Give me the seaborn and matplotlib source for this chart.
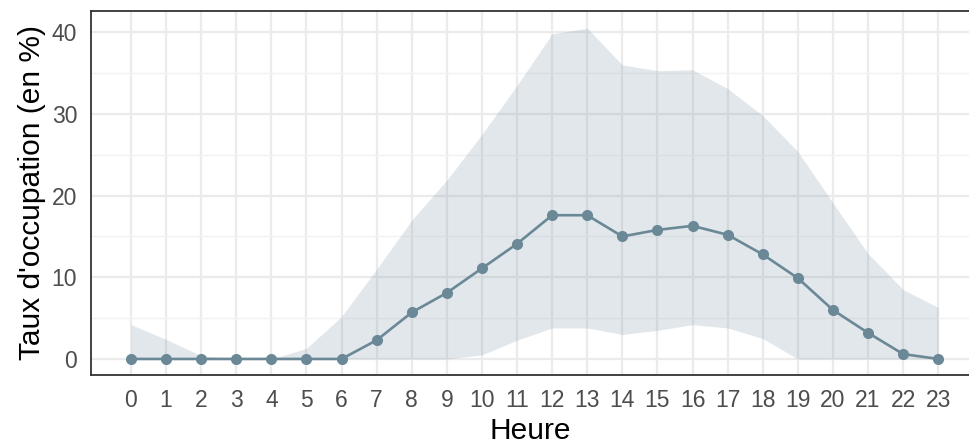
import numpy as np
import pandas as pd
import matplotlib
matplotlib.use("Agg")
import matplotlib.pyplot as plt
import seaborn as sns
from matplotlib.ticker import MultipleLocator

# Data
heures = list(range(24))
taux_moyen = [0, 0, 0, 0, 0, 0, 0, 2.3, 5.7, 8.1, 11.1, 14.1, 17.6, 17.6,
              15.0, 15.8, 16.3, 15.2, 12.8, 9.9, 6.0, 3.2, 0.6, 0]
taux_haut = [4.2, 2.4, 0.4, 0, 0, 1.3, 5.2, 11.0, 17.0, 21.9, 27.5, 33.5, 39.8, 40.5,
             36.0, 35.3, 35.4, 33.1, 29.8, 25.4, 19.1, 12.9, 8.5, 6.3]
taux_bas = [0, 0, 0, 0, 0, 0, 0, 0, 0, 0, 0.5, 2.3, 3.8, 3.8,
            3.0, 3.5, 4.2, 3.8, 2.5, 0, 0, 0, 0, 0]

data = pd.DataFrame({"heure": heures, "taux": taux_moyen,
                     "haut": taux_haut, "bas": taux_bas})

col = "#6B8897"

sns.set_style("white")
plt.rcParams["font.family"] = ["Liberation Sans", "DejaVu Sans"]

fig = plt.figure(figsize=(9.7, 4.48), dpi=100)
ax = fig.add_axes([0.0938, 0.163, 0.906, 0.8124])

ax.fill_between(data["heure"], data["bas"], data["haut"], color="#7A94A8", alpha=0.22,
                linewidth=0, zorder=2)
sns.lineplot(data=data, x="heure", y="taux", color=col, linewidth=1.9,
             marker="o", markersize=8, markeredgewidth=0, ax=ax, zorder=3)

ax.set_xlim(-1.14, 23.9)
ax.set_ylim(-1.96, 42.6)
ax.set_xticks(heures)
ax.set_xticklabels([str(h) for h in heures])
ax.yaxis.set_major_locator(MultipleLocator(10))
ax.yaxis.set_minor_locator(MultipleLocator(5))

ax.grid(which="major", color="#EBEBEB", linewidth=1.6, zorder=0)
ax.grid(which="minor", axis="y", color="#F2F2F2", linewidth=1.0, zorder=0)
ax.set_axisbelow(True)

for s in ax.spines.values():
    s.set_color("#333333")
    s.set_linewidth(1.3)
ax.spines["right"].set_visible(False)

ax.tick_params(axis="both", which="major", length=6, width=1.2, color="#333333",
               labelsize=16.5, labelcolor="#4D4D4D", pad=4)
ax.tick_params(axis="y", which="minor", length=0)

ax.set_xlabel("Heure", fontsize=21.5, color="black", labelpad=4)
ax.set_ylabel("Taux d'occupation (en %)", fontsize=21.5, color="black", labelpad=4)

fig.savefig("out.png", dpi=100)
